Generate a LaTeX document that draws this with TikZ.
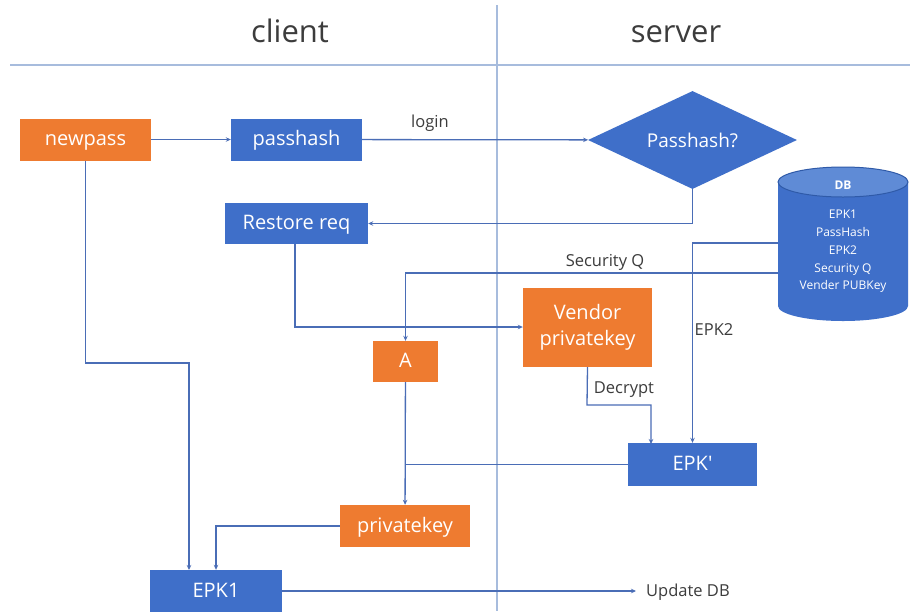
\documentclass[tikz,border=0pt]{standalone}
\usepackage{fontspec}
\setmainfont{Open Sans}
\usetikzlibrary{shapes.geometric,arrows.meta}

\definecolor{boxorange}{HTML}{EE7B30}
\definecolor{boxblue}{HTML}{3F6FC9}
\definecolor{dbtop}{HTML}{5F8BD6}
\definecolor{dbedge}{HTML}{2F5AA8}
\definecolor{wire}{HTML}{4A6DB6}
\definecolor{divider}{HTML}{A7BCDD}
\definecolor{labelgray}{HTML}{3C3C3C}

\begin{document}
\begin{tikzpicture}[x=1pt,y=-1pt,
  box/.style={rectangle, draw=none, text=white, inner sep=0pt,
    text height=15pt, text depth=3pt,
    font=\fontsize{20}{26}\selectfont, minimum width=130pt, minimum height=42pt},
  orangebox/.style={box, fill=boxorange},
  bluebox/.style={box, fill=boxblue},
  wireline/.style={draw=wire, line width=1.3pt},
  arr/.style={wireline, -{Stealth[length=5pt,width=4.5pt]}},
  lbl/.style={text=labelgray, inner sep=0pt, font=\fontsize{16.5}{20}\selectfont},
  title/.style={text=labelgray, inner sep=0pt, font=\fontsize{31}{36}\selectfont},
  dbtext/.style={text=white, inner sep=0pt, align=center, font=\fontsize{12}{17.8}\selectfont},
]
\useasboundingbox (0,0) rectangle (910,611);
\fill[white] (0,0) rectangle (910,611);

% swim-lane header
\draw[divider, line width=1.2pt] (497,5) -- (497,611);
\draw[divider, line width=1.2pt] (10,65) -- (910,65);
\node[title, anchor=base] (clienthead) at (290,42) {client};
\node[title, anchor=base] (serverhead) at (676,42) {server};

% database cylinder
\fill[boxblue] (778,182) -- (778,306) arc[start angle=180, end angle=360, x radius=65, y radius=-15]
  -- (908,182) -- cycle;
\filldraw[fill=dbtop, draw=dbedge, line width=1pt] (843,182) ellipse [x radius=65, y radius=15];
\node[dbtext, font=\fontsize{12}{14}\bfseries] (dbname) at (843,185) {DB};
\node[dbtext, anchor=north] (db) at (843,210) {EPK1\\PassHash\\EPK2\\Security Q\\Vender PUBKey};
\coordinate (dbA) at (778,243);
\coordinate (dbB) at (778,273);

% process nodes
\node[orangebox, minimum width=131pt] (newpass) at (85.5,139.5) {newpass};
\node[bluebox, minimum width=131pt] (passhash) at (296.5,139.5) {passhash};
\node[diamond, fill=boxblue, text=white, inner sep=0pt, aspect=2.13,
      minimum width=209pt, minimum height=98pt,
      font=\fontsize{19}{24}\selectfont] (check) at (692.5,140) {Passhash?};
\node[orangebox, minimum width=129pt, minimum height=79pt, align=center,
      text height=, text depth=] (vendor) at (587.5,327.5) {Vendor\\privatekey};
\node[bluebox, minimum width=143pt, minimum height=41pt] (restore) at (296.5,223.5) {Restore req};
\node[orangebox, minimum width=65pt, minimum height=41pt] (a) at (405.5,361.5) {A};
\node[bluebox, minimum width=129pt, minimum height=43pt] (epkp) at (692.5,464.5) {EPK\textquotesingle};
\node[orangebox, minimum width=130pt] (privkey) at (405,526) {privatekey};
\node[bluebox, minimum width=132pt] (epk1) at (216,591) {EPK1};
\coordinate (updend) at (636,591);

% connectors
\draw[arr] (newpass) -- (passhash);
\draw[arr] (passhash) -- node[lbl, above=8pt, pos=0.3] (loginlbl) {login} (check);
\draw[arr] (check.south) |- (restore);
\draw[arr] (dbA) -| (epkp.north);
\node[lbl] (epk2lbl) at (714,330) {EPK2};
\draw[arr] (dbB) -| (a.north);
\node[lbl] (seclbl) at (605,262) {Security Q};
\draw[arr] (restore.south -| 295,0) |- (vendor.west |- 0,327);
\draw[arr] (vendor.south) -- (587,405) -| (651,444);
\node[lbl] (declbl) at (624,390) {Decrypt};
\draw[wireline] (epkp.west) -- (epkp.west -| a);
\draw[arr] (a) -- (privkey);
\draw[arr] (privkey.west) -| (epk1.north);
\draw[arr] (newpass.south) -- (85.5,363) -| (189,570);
\draw[arr] (epk1) -- (updend);
\node[lbl, anchor=west] (updlbl) at (646,592) {Update DB};
\end{tikzpicture}
\end{document}
